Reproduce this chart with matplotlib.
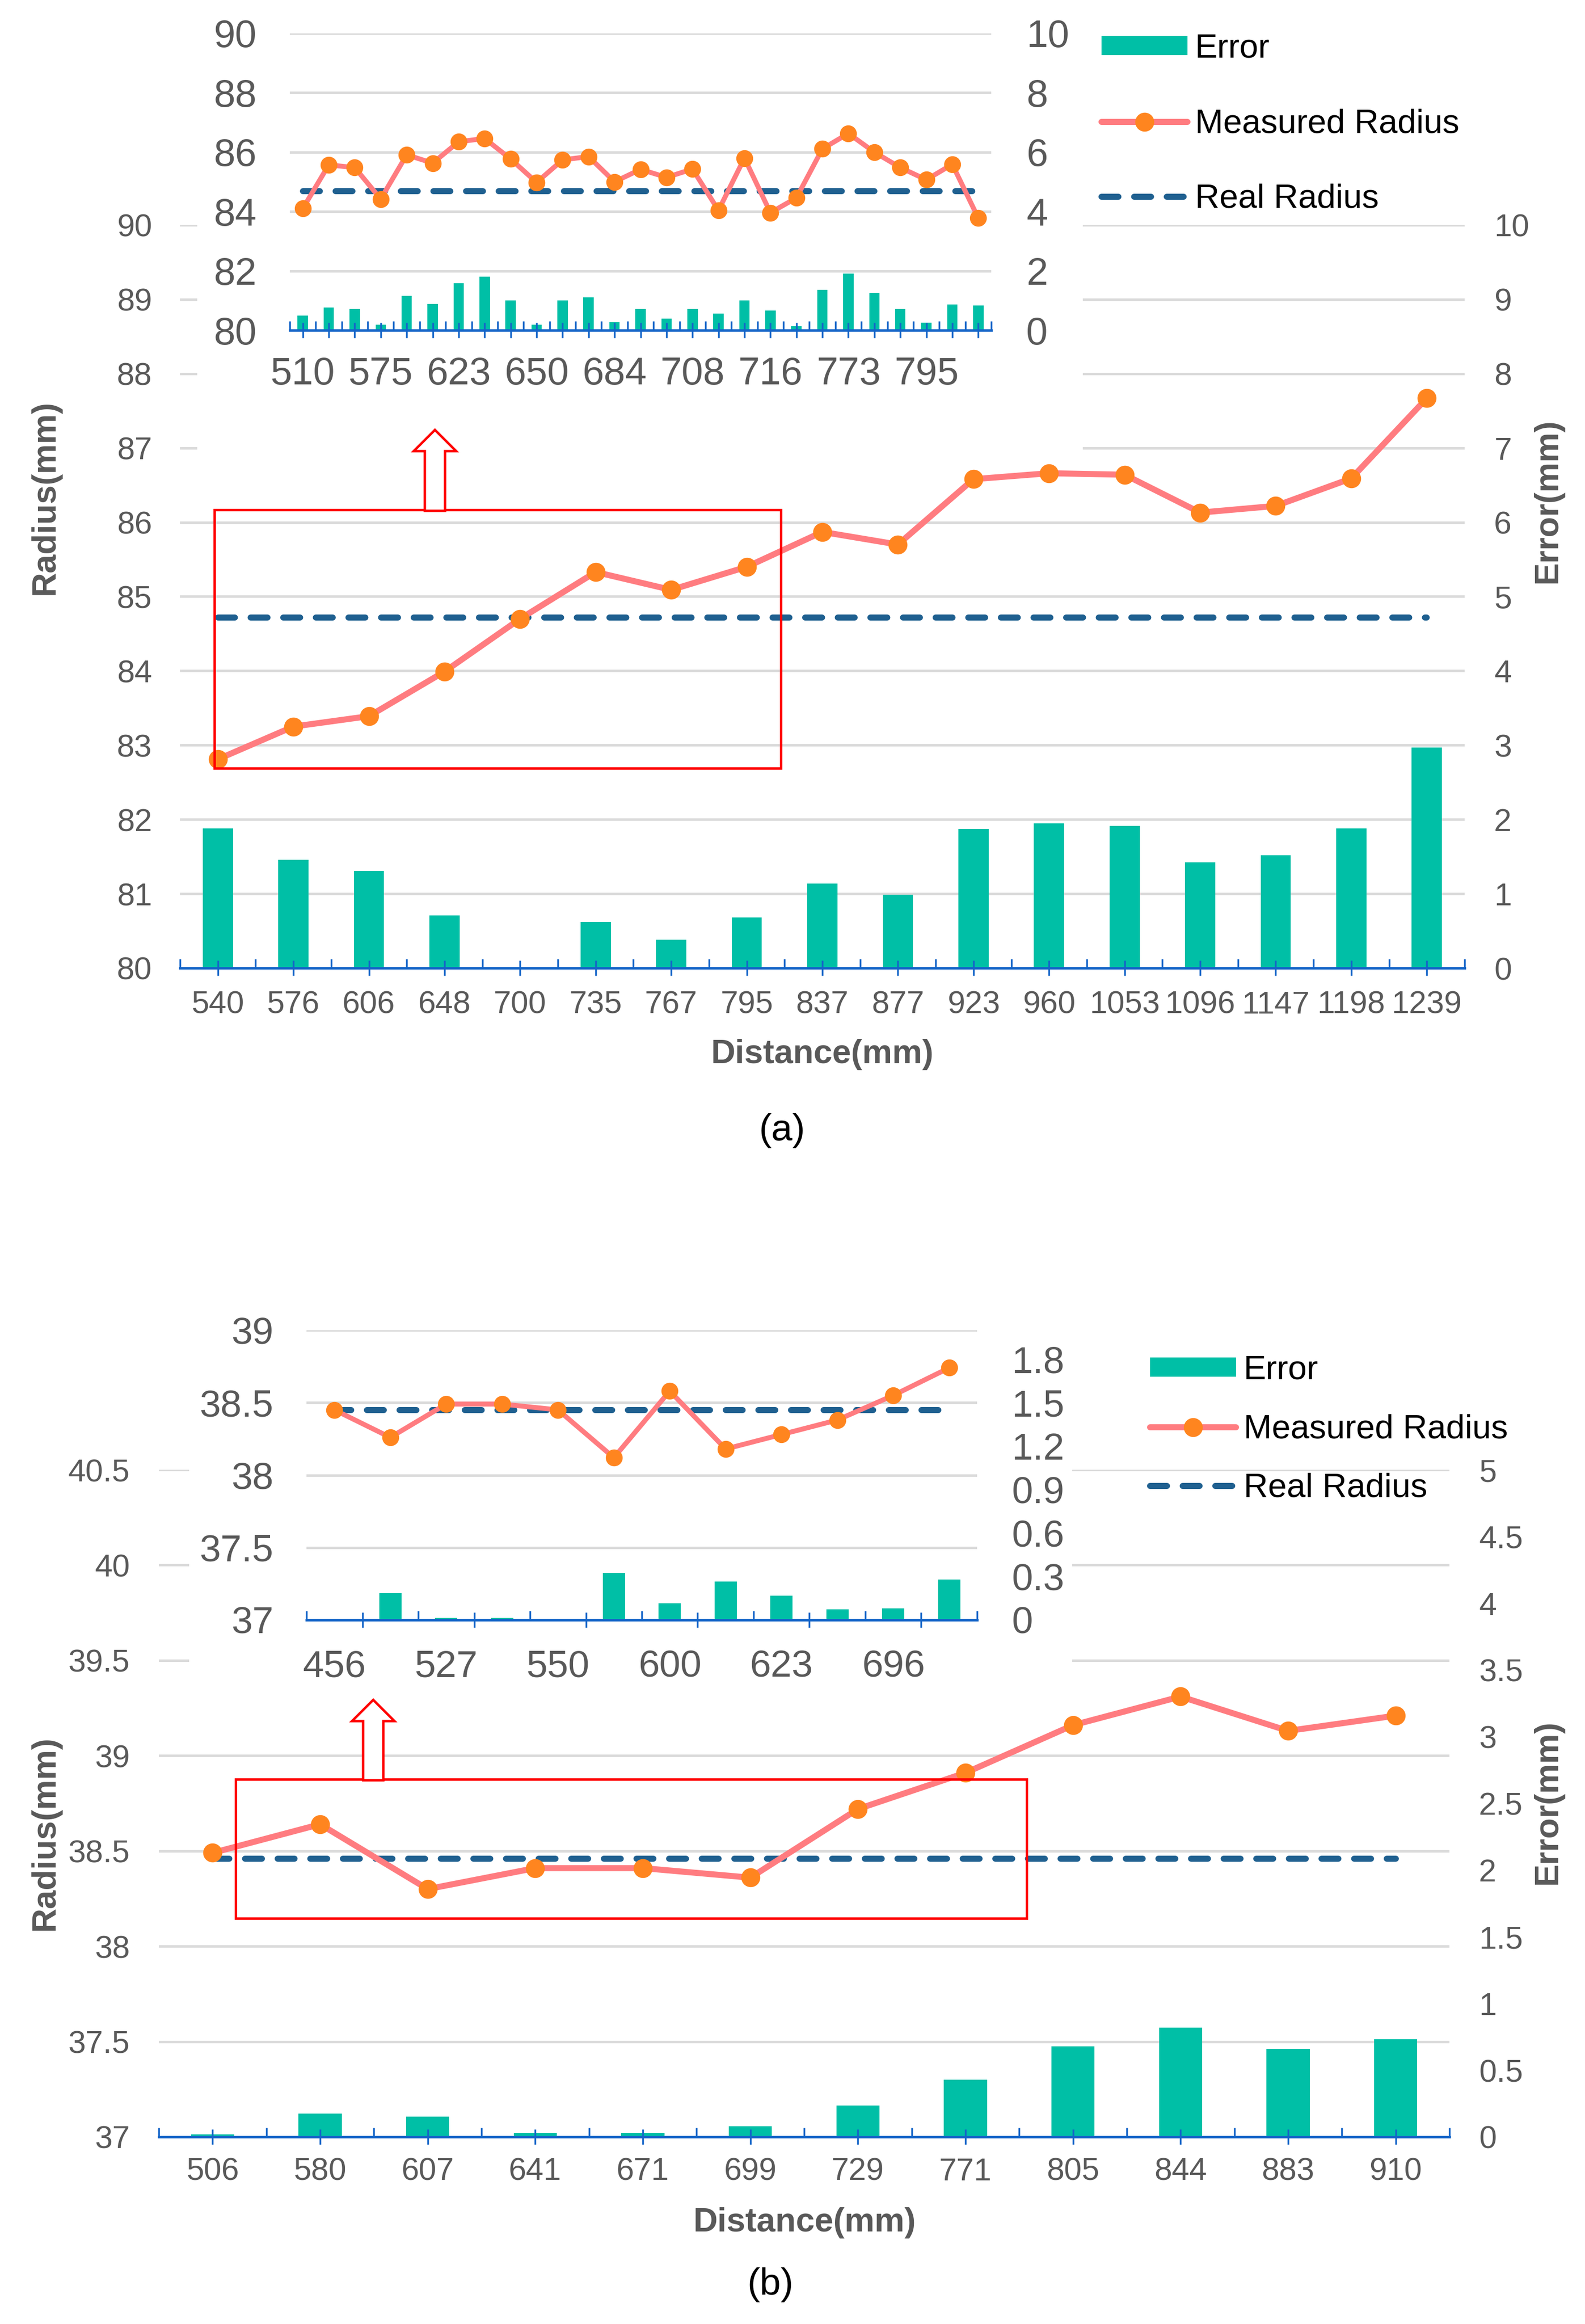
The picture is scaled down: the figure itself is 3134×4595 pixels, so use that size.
import numpy as np
import matplotlib
matplotlib.use('Agg')
import matplotlib.pyplot as plt
from matplotlib.patches import Rectangle, Polygon
from matplotlib.ticker import FuncFormatter

# ---------------- data ----------------
# (a) main chart
a_dist = ['540', '576', '606', '648', '700', '735', '767', '795', '837', '877',
          '923', '960', '1053', '1096', '1147', '1198', '1239']
a_measured = [82.81, 83.25, 83.39, 83.99, 84.70, 85.33, 85.09, 85.40, 85.87, 85.70,
              86.58, 86.66, 86.64, 86.13, 86.22, 86.59, 87.67]
a_real = 84.72
a_error = [1.88, 1.46, 1.31, 0.71, 0.01, 0.62, 0.38, 0.68, 1.14, 0.99,
           1.87, 1.95, 1.91, 1.42, 1.52, 1.88, 2.97]

# (a) inset
ia_dist = ['510', '', '', '575', '', '', '623', '', '', '650', '', '', '684', '', '',
           '708', '', '', '716', '', '', '773', '', '', '795', '', '']
ia_measured = [84.10, 85.57, 85.48, 84.42, 85.91, 85.63, 86.35, 86.46, 85.77, 84.98,
               85.74, 85.85, 85.00, 85.42, 85.15, 85.43, 84.04, 85.80, 83.96, 84.46,
               86.11, 86.63, 86.00, 85.48, 85.07, 85.59, 83.78]
ia_real = 84.68
ia_error = [0.50, 0.77, 0.72, 0.19, 1.15, 0.89, 1.58, 1.80, 1.00, 0.19,
            1.00, 1.10, 0.28, 0.72, 0.39, 0.72, 0.57, 1.00, 0.67, 0.13,
            1.37, 1.91, 1.26, 0.72, 0.26, 0.87, 0.83]

# (b) main chart
b_dist = ['506', '580', '607', '641', '671', '699', '729', '771', '805', '844', '883', '910']
b_measured = [38.49, 38.64, 38.30, 38.41, 38.41, 38.36, 38.72, 38.91, 39.16, 39.31, 39.13, 39.21]
b_real = 38.46
b_error = [0.02, 0.175, 0.15, 0.03, 0.03, 0.08, 0.235, 0.43, 0.68, 0.82, 0.66, 0.73]

# (b) inset
ib_dist = ['456', '', '527', '', '550', '', '600', '', '623', '', '696', '']
ib_measured = [38.45, 38.26, 38.49, 38.49, 38.45, 38.12, 38.58, 38.18, 38.28, 38.38, 38.55, 38.74]
ib_real = 38.45
ib_error = [0.0, 0.186, 0.013, 0.013, 0.0, 0.326, 0.114, 0.266, 0.169, 0.072, 0.08, 0.279]

legend_labels = ['Error', 'Measured Radius', 'Real Radius']

# ---------------- style ----------------
W, H, DPI = 3134, 4595, 100
plt.rcParams['font.family'] = ['Liberation Sans', 'DejaVu Sans']

C_BAR = '#00BFA6'
C_LINE = '#FF7C80'
C_MARK = '#FF851F'
C_REAL = '#1F6090'
C_AXIS = '#1565C8'
C_GRID = '#DADADA'
C_TXT = '#595959'

fig = plt.figure(figsize=(W / DPI, H / DPI), dpi=DPI)
fig.patch.set_facecolor('white')


def fx(x):
    return x / W


def fy(y):
    return 1 - y / H


def rect_px(x0, y0, x1, y1):
    return [fx(x0), fy(y1), fx(x1) - fx(x0), fy(y0) - fy(y1)]


def fmt_g(v, pos):
    return '%g' % round(v, 3)


def build(rect, cats, measured, real, error, lim_l, ticks_l, lim_r, ticks_r, z0,
          fs, lw, ms, dlw, lpad, rpad, xpad, pair_ticks=False):
    n = len(cats)
    x = np.arange(n)
    top = fig.add_axes(rect)
    grid = top.twinx()
    bars = top.twinx()
    grid.set_zorder(z0)
    bars.set_zorder(z0 + 1)
    top.set_zorder(z0 + 2)
    for a in (top, grid, bars):
        a.patch.set_visible(False)
        for s in a.spines.values():
            s.set_visible(False)

    # gridlines + left labels
    grid.yaxis.tick_left()
    grid.set_ylim(*lim_l)
    grid.set_yticks(ticks_l)
    grid.yaxis.set_major_formatter(FuncFormatter(fmt_g))
    grid.tick_params(axis='y', length=0, pad=lpad, labelsize=fs, labelcolor=C_TXT)
    grid.grid(axis='y', color=C_GRID, lw=3.5)

    # bars (right axis)
    bc = bars.bar(x, error, width=0.4, color=C_BAR, zorder=2)
    bars.set_ylim(*lim_r)
    bars.set_yticks(ticks_r)
    bars.yaxis.set_major_formatter(FuncFormatter(fmt_g))
    bars.tick_params(axis='y', length=0, pad=rpad, labelsize=fs, labelcolor=C_TXT)

    # lines (left scale)
    top.set_ylim(*lim_l)
    lm, = top.plot(x, measured, color=C_LINE, lw=lw, marker='o', ms=ms,
                   mfc=C_MARK, mec=C_MARK, solid_capstyle='round', clip_on=False, zorder=3)
    lr, = top.plot(x, np.full(n, real), color=C_REAL, lw=dlw,
                   linestyle=(0, (2.8, 2.6)), dash_capstyle='round', zorder=2)
    top.tick_params(axis='y', left=False, labelleft=False, right=False, labelright=False)
    top.set_xlim(-0.5, n - 0.5)
    top.spines['bottom'].set_visible(True)
    top.spines['bottom'].set_color(C_AXIS)
    top.spines['bottom'].set_linewidth(3.5)

    if not pair_ticks:
        top.set_xticks(x, cats)
        top.set_xticks(np.arange(n + 1) - 0.5, minor=True)
        top.tick_params(axis='x', which='major', direction='inout', length=21, width=2.5,
                        color=C_AXIS, labelsize=fs, labelcolor=C_TXT, pad=xpad)
        top.tick_params(axis='x', which='minor', direction='in', length=13, width=2.5,
                        color=C_AXIS)
    else:
        bnd = np.arange(n + 1) - 0.5
        top.set_xticks(bnd[1::2], [''] * len(bnd[1::2]))
        top.set_xticks(bnd[0::2], minor=True)
        top.tick_params(axis='x', which='major', direction='inout', length=21, width=2.5,
                        color=C_AXIS)
        top.tick_params(axis='x', which='minor', direction='in', length=13, width=2.5,
                        color=C_AXIS)
        sec = top.secondary_xaxis('bottom')
        sec.set_xticks(x, cats)
        sec.spines['bottom'].set_visible(False)
        sec.tick_params(axis='x', length=0, labelsize=fs, labelcolor=C_TXT, pad=xpad)
    return bc, lm, lr


# ---------------- (a) main ----------------
ha = build(rect_px(356, 445, 2896, 1914), a_dist, a_measured, a_real, a_error,
           (80, 90), np.arange(80, 91, 1), (0, 10), np.arange(0, 11, 1), 0,
           45, 8.6, 26, 8.6, 40, 42, 21)

# white box behind inset (a)
fig.add_artist(Rectangle((fx(390), fy(905)), fx(2141) - fx(390), fy(0) - fy(905),
                         transform=fig.transFigure, fc='white', ec='none', zorder=5))
# inset (a)
build(rect_px(573, 66, 1960, 653), ia_dist, ia_measured, ia_real, ia_error,
      (80, 90), np.arange(80, 91, 2), (0, 10), np.arange(0, 11, 2), 6,
      55, 7.0, 23, 8.6, 47, 50, 27)

# ---------------- (b) main ----------------
hb = build(rect_px(314, 2906, 2866, 4225), b_dist, b_measured, b_real, b_error,
           (37, 40.5), np.arange(37, 40.51, 0.5), (0, 5), np.arange(0, 5.01, 0.5), 0,
           45, 8.6, 26, 8.6, 41, 42, 18)

fig.add_artist(Rectangle((fx(374), fy(3380)), fx(2120) - fx(374), fy(2560) - fy(3380),
                         transform=fig.transFigure, fc='white', ec='none', zorder=5))
build(rect_px(606, 2630, 1932, 3203), ib_dist, ib_measured, ib_real, ib_error,
      (37, 39), np.arange(37, 39.01, 0.5), (0, 2.0), np.arange(0, 1.81, 0.3), 6,
      54, 7.0, 23, 8.6, 47, 49, 42, pair_ticks=True)

# ---------------- legends ----------------
for handles, xl, ym, ls in ((ha, 2178, 245, 1.30), (hb, 2274, 2826, 0.82)):
    lg = fig.legend(handles, legend_labels, loc='center left',
                    bbox_to_anchor=(fx(xl), fy(ym)), bbox_transform=fig.transFigure,
                    frameon=False, fontsize=48, handlelength=2.55, handletextpad=0.22,
                    labelspacing=ls, borderpad=0, borderaxespad=0, handleheight=0.5)
    lg.set_zorder(20)

# ---------------- axis titles ----------------
tk = dict(fontsize=48, fontweight='bold', color=C_TXT, ha='center', va='center')
fig.text(fx(90), fy(983), 'Radius(mm)', rotation=90, **tk)
fig.text(fx(3060), fy(990), 'Error(mm)', rotation=90, **tk)
fig.text(fx(1626), fy(2085), 'Distance(mm)', **tk)
fig.text(fx(90), fy(3624), 'Radius(mm)', rotation=90, **tk)
fig.text(fx(3060), fy(3563), 'Error(mm)', rotation=90, **tk)
fig.text(fx(1591), fy(4395), 'Distance(mm)', **tk)
fig.text(fx(1546), fy(2236), '(a)', fontsize=54, color='black', ha='center', va='center')
fig.text(fx(1523), fy(4517), '(b)', fontsize=54, color='black', ha='center', va='center')

# ---------------- annotations: red boxes and hollow arrows ----------------
def red_box(x0, y0, x1, y1):
    fig.add_artist(Rectangle((fx(x0), fy(y1)), fx(x1) - fx(x0), fy(y0) - fy(y1),
                             transform=fig.transFigure, fill=False, ec='red', lw=3.5,
                             zorder=30))


def up_arrow(cx, tip, base_head, bottom, hw=42, sw=20):
    pts = [(cx, tip), (cx + hw, base_head), (cx + sw, base_head), (cx + sw, bottom),
           (cx - sw, bottom), (cx - sw, base_head), (cx - hw, base_head)]
    fig.add_artist(Polygon([(fx(px), fy(py)) for px, py in pts], closed=True,
                           transform=fig.transFigure, fc='white', ec='red', lw=3.5,
                           joinstyle='miter', zorder=31))


red_box(424, 1008, 1544, 1519)
up_arrow(860, 850, 892, 1010)
red_box(466, 3518, 2030, 3793)
up_arrow(738, 3361, 3403, 3520)

fig.savefig('out.png', dpi=DPI, facecolor='white')
